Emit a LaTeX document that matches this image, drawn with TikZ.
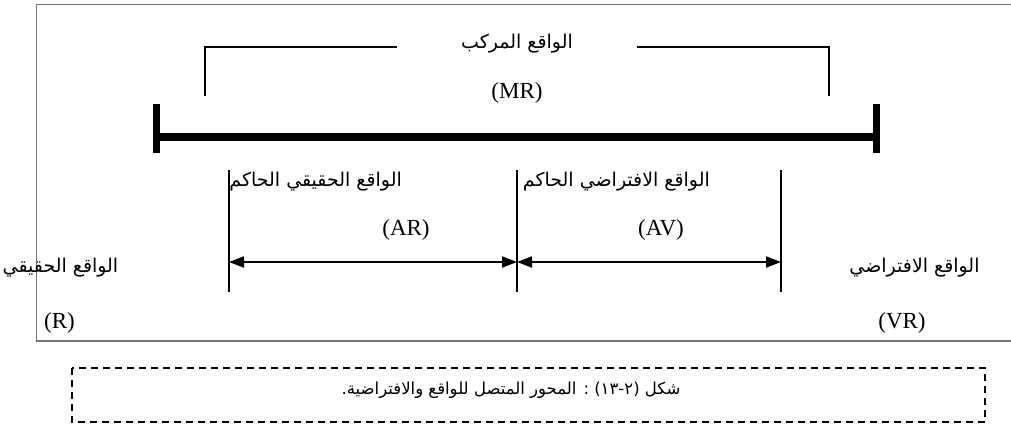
\documentclass[tikz,border=0pt]{standalone}
\usepackage{fontspec}
\setmainfont{Liberation Serif}
\newfontfamily\arabicfont[Script=Arabic]{DejaVu Sans}
\TeXXeTstate=1
\usetikzlibrary{arrows.meta}
\tikzset{
  frameline/.style={draw=black!55, line width=1.2pt},
  thin/.style={draw=black, line width=1.4pt},
  axis/.style={draw=black, line width=7.5pt},
  endbar/.style={draw=black, line width=7.5pt},
  span/.style={draw=black, line width=2pt, {Triangle[length=15pt,width=11pt]}-{Triangle[length=15pt,width=11pt]}},
  ar/.style={inner sep=0pt, font=\arabicfont\fontsize{19}{22}\selectfont},
  capfont/.style={inner sep=0pt, font=\arabicfont\fontsize{16.5}{20}\selectfont},
  lat/.style={inner sep=0pt, font=\fontsize{23}{26}\selectfont},
  capbox/.style={draw=black, line width=1.4pt, dash pattern=on 7pt off 5pt}
}
\begin{document}
\begin{tikzpicture}[x=1pt,y=-1pt]
\useasboundingbox (0,0) rectangle (1011,425);
% outer frame
\coordinate (fA) at (36.5,4.5);
\coordinate (fB) at (1020,341);
\draw[frameline] (fA) rectangle (fB);
% mixed reality bracket
\coordinate (b1) at (205,96);
\coordinate (b2) at (205,47);
\coordinate (b3) at (397,47);
\coordinate (b4) at (637,47);
\coordinate (b5) at (829,47);
\coordinate (b6) at (829,96);
\draw[thin] (b1) -- (b2) -- (b3);
\draw[thin] (b4) -- (b5) -- (b6);
\node[ar] (mrt) at (517,44) {\beginR الواقع المركب\endR};
\node[lat] (mr) at (517,93) {(MR)};
% axis
\coordinate (aL) at (156.5,137);
\coordinate (aR) at (876.5,137);
\coordinate (cL1) at (156.5,104);
\coordinate (cL2) at (156.5,153);
\coordinate (cR1) at (876.5,104);
\coordinate (cR2) at (876.5,153);
\draw[axis] (aL) -- (aR);
\draw[endbar] (cL1) -- (cL2);
\draw[endbar] (cR1) -- (cR2);
% verticals
\coordinate (v1t) at (229,170);
\coordinate (v1b) at (229,292);
\coordinate (v2t) at (517,170);
\coordinate (v2b) at (517,292);
\coordinate (v3t) at (781,170);
\coordinate (v3b) at (781,292);
\draw[thin] (v1t) -- (v1b);
\draw[thin] (v2t) -- (v2b);
\draw[thin] (v3t) -- (v3b);
% spans
\coordinate (s1) at (229,262);
\coordinate (s2) at (517,262);
\coordinate (s3) at (781,262);
\draw[span] (s1) -- (s2);
\draw[span] (s2) -- (s3);
% labels
\node[ar, anchor=east] (art) at (402,182) {\beginR الواقع الحقيقي الحاكم\endR};
\node[ar, anchor=east] (avt) at (710,182) {\beginR الواقع الافتراضي الحاكم\endR};
\node[lat] (ar) at (406,230) {(AR)};
\node[lat] (av) at (661,230) {(AV)};
\node[ar] (rt) at (60.5,268) {\beginR الواقع الحقيقي\endR};
\node[lat] (r) at (59.5,323) {(R)};
\node[ar] (vrt) at (914.5,268) {\beginR الواقع الافتراضي\endR};
\node[lat] (vr) at (902,323) {(VR)};
% caption
\coordinate (kA) at (72,368);
\coordinate (kB) at (985,422);
\draw[capbox] (kA) rectangle (kB);
\node[capfont] (cap) at (511,390) {\beginR شكل (٢-١٣) : المحور المتصل للواقع والافتراضية.\endR};
\end{tikzpicture}
\end{document}
